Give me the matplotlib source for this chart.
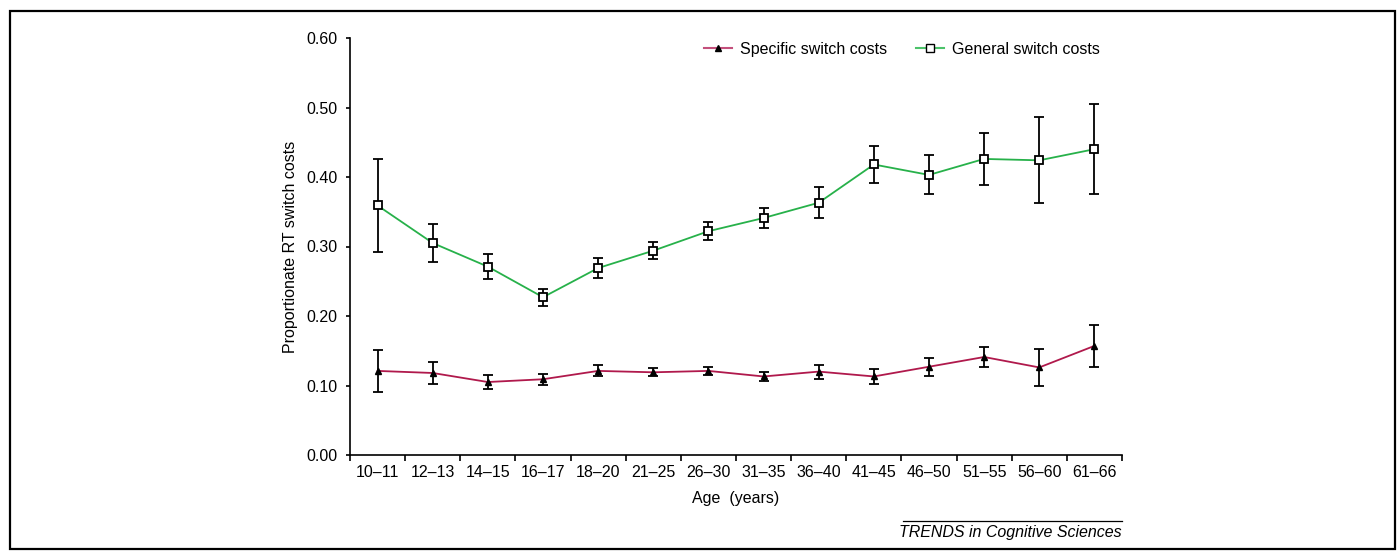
import numpy as np
import matplotlib.pyplot as plt
from matplotlib.lines import Line2D

plt.rcParams['font.family'] = ['Liberation Sans', 'DejaVu Sans']

ages = ['10–11', '12–13', '14–15', '16–17', '18–20', '21–25', '26–30',
        '31–35', '36–40', '41–45', '46–50', '51–55', '56–60', '61–66']

specific = [0.121, 0.118, 0.105, 0.109, 0.121, 0.119, 0.121,
            0.113, 0.120, 0.113, 0.127, 0.141, 0.126, 0.157]
specific_err = [0.030, 0.016, 0.010, 0.008, 0.008, 0.006, 0.006,
                0.007, 0.010, 0.011, 0.013, 0.015, 0.027, 0.030]

general = [0.359, 0.305, 0.271, 0.227, 0.269, 0.294, 0.322,
           0.341, 0.363, 0.418, 0.403, 0.426, 0.424, 0.440]
general_err = [0.067, 0.027, 0.018, 0.012, 0.014, 0.012, 0.013,
               0.015, 0.022, 0.026, 0.028, 0.037, 0.062, 0.065]

yticks = [0.0, 0.1, 0.2, 0.3, 0.4, 0.5, 0.6]

FS = 11.5
W, H = 1397, 551

fig = plt.figure(figsize=(W / 100, H / 100), dpi=100)
ax = fig.add_axes([350 / W, 1 - 455 / H, 772 / W, 417 / H])

x = np.arange(len(ages))
red = '#b0194c'
green = '#27b14a'

ax.errorbar(x, specific, yerr=specific_err, fmt='none', ecolor='black',
            elinewidth=1.3, capsize=3.5, capthick=1.3, zorder=2)
ax.plot(x, specific, color=red, lw=1.3, marker='^', ms=4.5,
        mfc='black', mec='black', zorder=3)

ax.errorbar(x, general, yerr=general_err, fmt='none', ecolor='black',
            elinewidth=1.3, capsize=3.5, capthick=1.3, zorder=2)
ax.plot(x, general, color=green, lw=1.3, marker='s', ms=5.5,
        mfc='white', mec='black', mew=1.3, zorder=3)

ax.set_xlim(-0.5, len(ages) - 0.5)
ax.set_ylim(0, 0.6)
ax.spines['top'].set_visible(False)
ax.spines['right'].set_visible(False)
ax.spines['left'].set_linewidth(1.2)
ax.spines['bottom'].set_linewidth(1.2)

# tick marks sit between the age groups, labels at the group centres
ax.set_xticks(np.arange(len(ages) + 1) - 0.5)
ax.set_xticklabels([])
ax.set_xticks(x, minor=True)
ax.set_xticklabels(ages, minor=True)
ax.tick_params(axis='x', which='major', direction='out', length=4, width=1.2)
ax.tick_params(axis='x', which='minor', length=0, labelsize=FS, pad=7)

ax.set_yticks(yticks)
ax.set_yticklabels([f'{v:.2f}' for v in yticks])
ax.tick_params(axis='y', direction='out', length=3, width=1.2,
               labelsize=FS, pad=6)

ax.set_ylabel('Proportionate RT switch costs', fontsize=FS, labelpad=6)
ax.set_xlabel('Age  (years)', fontsize=FS, labelpad=8)

handles = [
    Line2D([], [], color='#c4507c', lw=1.5, marker='^', ms=4,
           mfc='black', mec='black'),
    Line2D([], [], color='#4cc36a', lw=1.5, marker='s', ms=5.5,
           mfc='white', mec='black'),
]
ax.legend(handles, ['Specific switch costs', 'General switch costs'],
          loc='upper right', bbox_to_anchor=(0.99, 1.025), ncol=2,
          frameon=False, fontsize=FS, handlelength=1.75,
          columnspacing=1.8, handletextpad=0.5)

# journal credit line
fig.add_artist(Line2D([903 / W, 1122 / W], [1 - 521 / H, 1 - 521 / H],
                      color='black', lw=0.9))
fig.text(1122 / W, 1 - 533 / H, 'TRENDS in Cognitive Sciences',
         ha='right', va='center', style='italic', fontsize=FS)

# outer frame
fig.add_artist(plt.Rectangle((10 / W, 1 - 549 / H), 1385 / W, 538 / H,
                             fill=False, edgecolor='black', lw=1.6,
                             transform=fig.transFigure))

fig.savefig('out.png', dpi=100)
